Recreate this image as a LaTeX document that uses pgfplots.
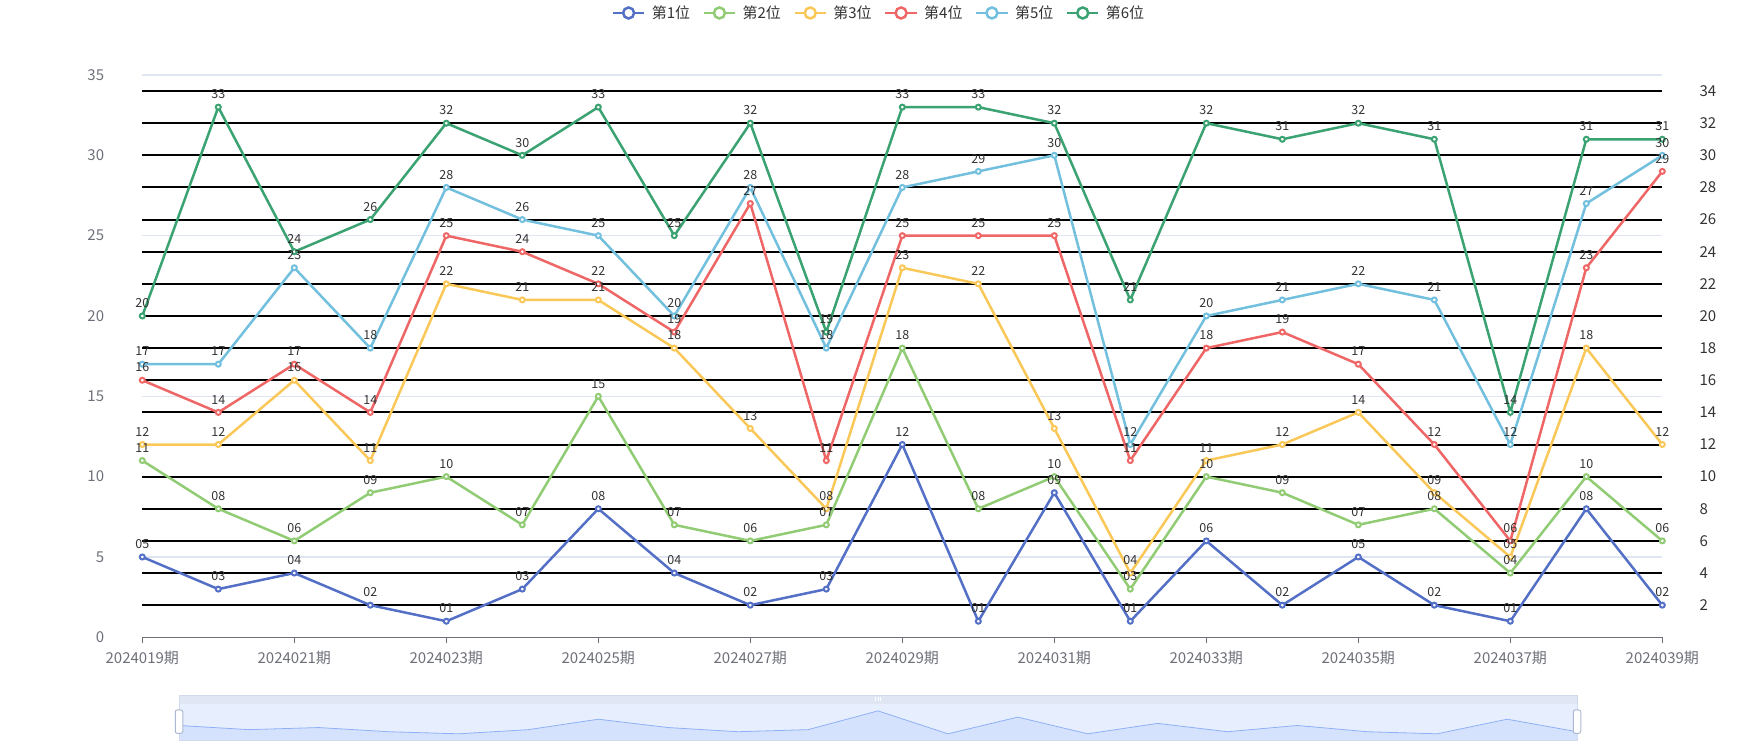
\documentclass[border=0pt]{standalone}
\usepackage{fontspec}
\setmainfont{Noto Sans CJK SC}
\usepackage{pgfplots}
\usepackage{pgfplotstable}
\pgfplotsset{compat=1.18}

\definecolor{c1}{HTML}{5470C6}
\definecolor{c2}{HTML}{91CC75}
\definecolor{c3}{HTML}{FAC858}
\definecolor{c4}{HTML}{EE6666}
\definecolor{c5}{HTML}{73C0DE}
\definecolor{c6}{HTML}{3BA272}
\definecolor{axisgray}{HTML}{6E7079}
\definecolor{gridgray}{HTML}{E0E6F1}
\definecolor{txt}{HTML}{333333}
\definecolor{filler}{HTML}{E7EFFF}
\definecolor{shadowfill}{HTML}{D5E2FD}
\definecolor{shadowline}{HTML}{8FB0F7}
\definecolor{strip}{HTML}{E0E6F3}
\definecolor{zoomborder}{HTML}{D2DBEE}
\definecolor{handleborder}{HTML}{ACB8D1}

\newcommand\axfont{\fontsize{15bp}{18bp}\selectfont}
\newcommand\lblfont{\fontsize{12.5bp}{15bp}\selectfont}

% drawn numbers per period, sorted by position (p1 = 第1位 ... p6 = 第6位)
\pgfplotstableread{
x  p1 p2 p3 p4 p5 p6
0  05 11 12 16 17 20
1  03 08 12 14 17 33
2  04 06 16 17 23 24
3  02 09 11 14 18 26
4  01 10 22 25 28 32
5  03 07 21 24 26 30
6  08 15 21 22 25 33
7  04 07 18 19 20 25
8  02 06 13 27 28 32
9  03 07 08 11 18 19
10 12 18 23 25 28 33
11 01 08 22 25 29 33
12 09 10 13 25 30 32
13 01 03 04 11 12 21
14 06 10 11 18 20 32
15 02 09 12 19 21 31
16 05 07 14 17 22 32
17 02 08 09 12 21 31
18 01 04 05 06 12 14
19 08 10 18 23 27 31
20 02 06 12 29 30 31
}\draws

\pgfplotsset{
  ser/.style={color=#1, line width=2.5bp, mark=*, mark size=2.5bp,
    mark options={fill=white, line width=2bp}},
  lbl/.style={draw=none, mark=none, forget plot,
    point meta=explicit symbolic, nodes near coords,
    every node near coord/.append style={anchor=base, inner sep=0pt,
      yshift=8.3bp, font=\lblfont, text=txt}},
  chartbox/.style={at={(142.3bp,112.7bp)}, anchor=south west,
    scale only axis, width=1520bp, height=562.3bp,
    xmin=0, xmax=20, ymin=0, ymax=35,
    /pgf/number format/assume math mode=true},
}

\begin{document}
\begin{tikzpicture}
\useasboundingbox (0,0) rectangle (1750bp,750bp);

% left value axis, light grid, category axis
\begin{axis}[
  chartbox,
  axis x line*=bottom, axis y line*=left,
  x axis line style={axisgray, line width=1.25bp, -},
  y axis line style={draw=none},
  xtick={0,2,...,20},
  xticklabels={2024019期,2024021期,2024023期,2024025期,2024027期,2024029期,
    2024031期,2024033期,2024035期,2024037期,2024039期},
  xtick align=outside, major tick length=6bp,
  xtick style={axisgray, line width=1.25bp},
  xticklabel style={font=\axfont, text=axisgray, anchor=north,
    inner sep=0pt, yshift=-8bp},
  ytick={0,5,...,35}, ytick style={draw=none}, ytick align=inside,
  yticklabel style={font=\axfont, text=axisgray, anchor=east,
    inner sep=0pt, xshift=-38bp},
  ymajorgrids, grid style={gridgray, line width=1.25bp},
]
\end{axis}

% right value axis with black lines, and the series
\begin{axis}[
  chartbox,
  axis x line=none, axis y line*=right,
  y axis line style={draw=none},
  xtick=\empty,
  ytick={2,4,...,34}, ytick style={draw=none}, ytick align=inside,
  yticklabel style={font=\axfont, text=txt, anchor=west,
    inner sep=0pt, xshift=37bp},
  ymajorgrids, grid style={black, line width=2bp},
  clip=false,
  legend columns=6,
  legend style={at={(0.484,1.1103)}, anchor=center, draw=none, fill=none,
    inner sep=0pt, font=\axfont, text=txt, nodes={inner sep=0pt},
    /tikz/every odd column/.append style={column sep=6.25bp},
    /tikz/every even column/.append style={column sep=12.5bp}},
  legend image code/.code={
    \draw[#1, mark=none, line width=2.5bp] (0bp,0bp) -- (31.25bp,0bp);
    \draw[#1, mark=none, fill=white, line width=2.5bp] (15.625bp,0bp) circle (5.5bp);},
]
\addplot[ser=c1] table[x=x, y=p1] {\draws}; \addlegendentry{第1位}
\addplot[ser=c2] table[x=x, y=p2] {\draws}; \addlegendentry{第2位}
\addplot[ser=c3] table[x=x, y=p3] {\draws}; \addlegendentry{第3位}
\addplot[ser=c4] table[x=x, y=p4] {\draws}; \addlegendentry{第4位}
\addplot[ser=c5] table[x=x, y=p5] {\draws}; \addlegendentry{第5位}
\addplot[ser=c6] table[x=x, y=p6] {\draws}; \addlegendentry{第6位}
% value labels on top of all lines
\addplot[lbl] table[x=x, y=p1, meta=p1] {\draws};
\addplot[lbl] table[x=x, y=p2, meta=p2] {\draws};
\addplot[lbl] table[x=x, y=p3, meta=p3] {\draws};
\addplot[lbl] table[x=x, y=p4, meta=p4] {\draws};
\addplot[lbl] table[x=x, y=p5, meta=p5] {\draws};
\addplot[lbl] table[x=x, y=p6, meta=p6] {\draws};
\end{axis}

% data zoom slider, its shadow is the 第1位 series
\begin{axis}[
  at={(179bp,9.3bp)}, anchor=south west,
  scale only axis, width=1398bp, height=36.7bp,
  xmin=0, xmax=20, ymin=-2.3, ymax=15.3,
  axis line style={draw=none}, xtick=\empty, ytick=\empty,
  axis background/.style={fill=filler},
  clip=false,
]
\addplot[shadowfill, fill, draw=none] table[x=x, y=p1] {\draws}
  |- (axis cs:0,-2.3) -- cycle;
\addplot[shadowline, line width=0.8bp] table[x=x, y=p1] {\draws};
\fill[strip] (rel axis cs:0,1) rectangle (rel axis cs:1,1.245);
\draw[zoomborder, line width=0.8bp] (rel axis cs:0,0) rectangle (rel axis cs:1,1.245);
\draw[white, line width=1bp] ([xshift=-2.75bp]rel axis cs:0.5,1.07) -- ([xshift=-2.75bp]rel axis cs:0.5,1.18);
\draw[white, line width=1bp] (rel axis cs:0.5,1.07) -- (rel axis cs:0.5,1.18);
\draw[white, line width=1bp] ([xshift=2.75bp]rel axis cs:0.5,1.07) -- ([xshift=2.75bp]rel axis cs:0.5,1.18);
\draw[handleborder, fill=white, rounded corners=2bp, line width=1bp]
  ([xshift=-3.75bp]rel axis cs:0,0.2016) rectangle ([xshift=3.75bp]rel axis cs:0,0.8365);
\draw[handleborder, fill=white, rounded corners=2bp, line width=1bp]
  ([xshift=-3.75bp]rel axis cs:1,0.2016) rectangle ([xshift=3.75bp]rel axis cs:1,0.8365);
\end{axis}
\end{tikzpicture}
\end{document}
